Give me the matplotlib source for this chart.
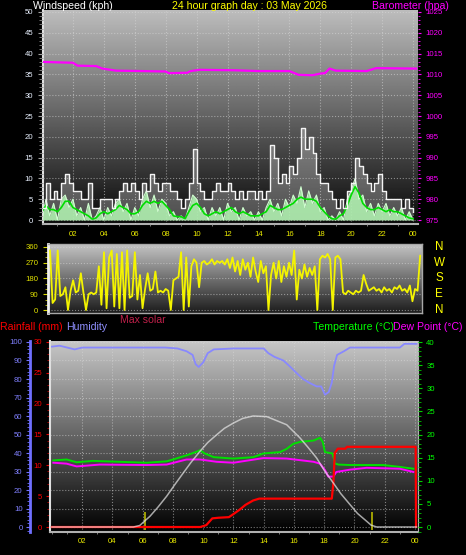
"""24 hour weather station graph: wind, direction, temperature/rain panel."""

import matplotlib

matplotlib.use("Agg")
import matplotlib.pyplot as plt
import matplotlib.transforms as mtransforms
from matplotlib.ticker import MultipleLocator
import numpy as np

W, H = 466, 555
plt.rcParams["font.family"] = ["Liberation Sans", "DejaVu Sans"]

# ---------------- data ----------------
WIND_STEP_H = 0.25  # 15 minute samples, 00:00 .. 24:00
gust_kph = [3, 9, 5, 7, 5, 9, 11, 9, 7, 7, 5, 5, 9, 3, 3, 5,
            5, 5, 3, 5, 7, 9, 7, 9, 7, 5, 9, 7, 11, 9, 7, 9,
            9, 7, 7, 5, 3, 5, 9, 17, 9, 7, 5, 5, 7, 9, 7, 7,
            9, 7, 5, 7, 5, 7, 7, 5, 7, 5, 7, 18, 15, 9, 11, 9,
            13, 11, 15, 22, 17, 20, 16, 11, 9, 9, 7, 5, 3, 5, 3, 7,
            9, 15, 13, 11, 9, 7, 9, 11, 7, 5, 5, 5, 5, 3, 5, 3, 2]
speed_kph = [0, 5, 1, 4, 0, 5, 6, 3, 5, 1, 3, 0, 4, 0, 1, 3,
             0, 3, 1, 4, 5, 2, 4, 0, 3, 1, 5, 7, 3, 6, 2, 5,
             4, 1, 2, 0, 1, 0, 3, 6, 5, 2, 3, 0, 3, 1, 3, 0,
             4, 2, 3, 0, 3, 1, 2, 0, 2, 0, 3, 5, 2, 4, 1, 5,
             3, 6, 4, 8, 3, 7, 4, 6, 2, 3, 0, 1, 0, 2, 0, 5,
             7, 10, 5, 6, 2, 4, 1, 4, 2, 4, 1, 3, 1, 3, 0, 2, 0]
avg_kph = [2.0, 3.5, 2.5, 2.5, 2.0, 3.0, 4.5, 4.5, 3.0, 2.5, 2.0, 1.5, 1.0, 0.2, 0.5, 1.5,
           2.0, 1.5, 2.0, 2.5, 3.5, 3.0, 2.5, 1.5, 1.5, 2.0, 3.5, 4.5, 4.0, 4.5, 4.0, 4.5,
           3.5, 2.5, 1.0, 0.8, 0.8, 0.3, 2.0, 3.5, 4.0, 3.0, 1.5, 1.0, 1.5, 2.0, 1.5, 2.0,
           2.5, 3.0, 2.0, 1.5, 2.0, 1.5, 1.0, 1.0, 1.0, 1.5, 2.0, 3.5, 3.0, 2.5, 2.5, 3.0,
           3.5, 4.0, 5.0, 5.5, 5.0, 5.0, 5.0, 4.5, 3.0, 2.0, 1.0, 0.3, 0.2, 1.0, 1.5, 3.5,
           6.0, 8.0, 6.5, 4.0, 3.0, 2.5, 2.5, 3.0, 2.5, 2.0, 2.5, 2.0, 2.0, 1.5, 1.0, 0.5, 0.3]

baro_hours = [0.1, 1.0, 2.0, 2.3, 3.5, 3.9, 4.8, 6.5, 8.0, 8.2, 9.4, 9.6, 10.2,
              12.4, 14.0, 16.0, 16.6, 17.5, 18.0, 18.3, 18.6, 19.0, 21.0, 21.6, 24.2]
baro_hpa = [1013.0, 1012.9, 1012.8, 1012.1, 1012.0, 1011.4, 1010.9, 1010.8, 1010.7, 1010.3, 1010.4,
            1010.8, 1011.1, 1011.0, 1010.8, 1010.8, 1009.9, 1009.8, 1010.2, 1010.3, 1011.4, 1010.9,
            1010.8, 1011.5, 1011.4]

DIR_STEP_H = 1 / 6  # 10 minute samples
wind_dir = [340, 40, 60, 340, 80, 90,
            130, 0, 110, 170, 100, 110,
            210, 100, 0, 90, 100, 90,
            100, 250, 30, 330, 10, 300,
            340, 20, 320, 10, 330, 0,
            340, 70, 80, 330, 60, 200,
            10, 120, 210, 110, 120, 220,
            100, 110, 100, 120, 110, 0,
            170, 180, 190, 330, 0, 300,
            20, 250, 290, 270, 130, 270,
            280, 260, 270, 290, 260, 280,
            270, 280, 260, 290, 240, 300,
            220, 280, 200, 290, 230, 270,
            190, 300, 220, 160, 280, 210,
            250, 0, 200, 270, 180, 280,
            160, 250, 190, 270, 200, 340,
            60, 230, 180, 260, 190, 240,
            200, 250, 0, 290, 310, 300,
            320, 290, 0, 300, 310, 290,
            100, 90, 110, 100, 90, 110,
            100, 110, 200, 150, 110, 120,
            130, 110, 120, 100, 130, 110,
            120, 100, 130, 120, 140, 110,
            120, 100, 140, 50, 120, 110,
            310]

hum_hours = [0.0, 0.5, 1.0, 1.5, 2.0, 4.0, 6.0, 7.5, 8.3, 8.9, 9.3, 9.5, 9.7, 10.0, 10.3,
             10.7, 12.0, 14.0, 14.3, 14.7, 15.3, 15.7, 16.2, 16.6, 17.0, 17.5, 17.8, 18.05,
             18.3, 18.5, 18.65, 18.85, 19.3, 19.7, 23.0, 23.3, 24.1]
hum_pct = [97.5, 98, 97, 96, 97, 97, 97, 97, 96.5, 95, 93, 88, 86.5, 89, 94,
           96, 96.5, 96.5, 94, 92, 90, 87, 83, 80, 78, 76, 76, 71.5,
           73, 78, 87, 93, 95, 97, 97, 99, 99]

temp_hours = [0.09, 0.97, 1.63, 2.7, 6.26, 7.58, 8.0, 8.9, 9.5, 9.79, 10.1, 10.7, 12.0, 13.3,
              13.98, 15.08, 15.52, 15.96, 16.4, 17.3, 17.72, 17.9, 18.05, 18.55, 18.72, 18.95,
              19.7, 21.9, 23.0, 23.9]
temp_c = [14.4, 14.6, 14.0, 14.3, 13.9, 14.2, 14.6, 15.5, 16.2, 16.6, 15.9, 15.1, 14.8, 15.1,
          15.9, 16.2, 16.9, 18.0, 18.4, 18.7, 19.3, 18.4, 16.2, 15.9, 13.7, 13.5,
          13.4, 13.4, 13.0, 12.6]

dew_hours = [0.09, 0.97, 1.63, 3.17, 6.26, 7.58, 8.9, 9.79, 10.89, 12.0, 13.98, 15.52,
             17.3, 17.72, 18.05, 18.27, 18.6, 18.8, 19.7, 20.8, 23.0, 23.9]
dew_c = [13.9, 13.7, 13.1, 13.5, 13.4, 13.5, 14.6, 14.6, 14.1, 13.9, 14.9, 14.8,
         14.1, 13.7, 12.3, 10.9, 10.9, 11.9, 12.4, 12.8, 12.6, 11.9]

rain_hours = [0.0, 9.8, 10.2, 10.6, 11.0, 11.7, 12.0, 12.4, 12.8, 13.3, 13.7, 18.5,
              18.6, 18.7, 18.9, 19.4, 19.5, 24.05, 24.07]
rain_mm = [0, 0, 0.3, 1.4, 1.5, 1.6, 2.1, 2.8, 3.6, 4.3, 4.6, 4.6,
           7.0, 12.0, 12.7, 12.7, 13.0, 13.0, 0]

solar_hours = [0.0, 5.38, 5.8, 6.48, 7.0, 7.58, 8.1, 8.68, 9.2, 9.79, 10.3, 10.89, 11.4, 12.0,
               12.6, 13.3, 14.2, 15.52, 16.4, 16.9, 17.5, 18.0, 18.6, 19.1, 19.71, 20.2,
               20.81, 21.1, 21.47, 24.1]
solar_wm2 = [0, 0, 12, 87, 160, 249, 340, 438, 525, 614, 685, 748, 800, 843,
             880, 900, 895, 829, 722, 650, 559, 460, 357, 270, 181, 110,
             46, 15, 0, 0]

sun_times = [6.15, 21.15]  # sunrise / sunset markers

hour_ticks = list(range(2, 25, 2))
hour_labels = ["02", "04", "06", "08", "10", "12", "14", "16", "18", "20", "22", "00"]

# ---------------- helpers ----------------
fig = plt.figure(figsize=(W / 100, H / 100), dpi=100, facecolor="black")

GRID = dict(color="#d8d8d8", linestyle=":", linewidth=0.8, alpha=0.55)
TICK_FS = 5.6
LABEL_FS = 7.6


def px_axes(left, top, right, bottom):
    return fig.add_axes([left / W, 1 - bottom / H, (right - left) / W, (bottom - top) / H])


def panel_bg(ax, top_val, bottom_val):
    grad = np.linspace(top_val, bottom_val, 256).reshape(-1, 1)
    ax.imshow(grad, cmap="gray", vmin=0, vmax=1, extent=[0, 1, 0, 1],
              transform=ax.transAxes, aspect="auto", zorder=0, interpolation="bilinear")


def ftext(x, y, s, **kw):
    kw.setdefault("va", "center")
    kw.setdefault("fontsize", LABEL_FS)
    fig.text(x / W, 1 - y / H, s, **kw)


def hide_spines(ax, keep=()):
    for name, sp in ax.spines.items():
        sp.set_visible(name in keep)


def hour_axis(ax, pad):
    ax.set_xticks(hour_ticks)
    ax.set_xticklabels(hour_labels)
    ax.xaxis.set_minor_locator(MultipleLocator(1))
    ax.tick_params(axis="x", which="major", length=0, pad=pad, labelsize=TICK_FS, labelcolor="#e8e800")
    ax.tick_params(axis="x", which="minor", length=1.5, color="#909090")


# ---------------- wind speed / barometer ----------------
wind_hours = np.arange(len(gust_kph)) * WIND_STEP_H

ax_w = px_axes(43, 10, 418, 224)
panel_bg(ax_w, 0.74, 0.03)
ax_w.fill_between(wind_hours, 0, gust_kph, step="post", color="white", alpha=0.28, lw=0, zorder=2)
ax_w.fill_between(wind_hours, 0, speed_kph, color="#b0f0b0", alpha=0.9, lw=0, zorder=3)
ax_w.plot(wind_hours, speed_kph, color="#d0ffd0", lw=0.8, zorder=3)
ax_w.plot(wind_hours, avg_kph, color="#00dd00", lw=1.2, zorder=4)
ax_w.plot(wind_hours, gust_kph, color="#f4f4f4", lw=1.0, drawstyle="steps-post", zorder=5)
ax_w.set_xlim(0.065, 24.32)
ax_w.set_ylim(-0.96, 50.48)
ax_w.grid(True, which="major", **GRID)
ax_w.set_axisbelow(False)
hide_spines(ax_w, keep=("left", "bottom"))
ax_w.spines["left"].set_color("#e0e0e0")
ax_w.spines["left"].set_linewidth(1.5)
ax_w.spines["bottom"].set_color("#b0b0b0")
ax_w.spines["bottom"].set_linewidth(1.5)
ax_w.yaxis.set_major_locator(MultipleLocator(5))
ax_w.yaxis.set_minor_locator(MultipleLocator(1))
ax_w.tick_params(axis="y", which="major", length=3.6, color="#a0a0a0", pad=3.4,
                 labelsize=TICK_FS, labelcolor="#e8f0ff")
ax_w.tick_params(axis="y", which="minor", length=2.6, color="#909090")
hour_axis(ax_w, pad=5.2)

ax_b = ax_w.twinx()
ax_b.plot(baro_hours, baro_hpa, color="#ff00ff", lw=1.6)
ax_b.set_ylim(974.04, 1025.48)
hide_spines(ax_b)
ax_b.yaxis.set_major_locator(MultipleLocator(5))
ax_b.yaxis.set_minor_locator(MultipleLocator(1))
ax_b.tick_params(axis="y", which="major", length=2.2, color="#ff00ff", pad=3.2,
                 labelsize=TICK_FS, labelcolor="#ff00ff")
ax_b.tick_params(axis="y", which="minor", length=1.6, color="#ff00ff")

ftext(33, 6, "Windspeed (kph)", color="white")
ftext(250, 6, "24 hour graph day : 03 May 2026", color="#ffff00", ha="center")
ftext(372, 6, "Barometer (hpa)", color="#ff00ff")

# ---------------- wind direction ----------------
dir_hours = np.arange(len(wind_dir)) * DIR_STEP_H

ax_d = px_axes(48, 244, 422, 313)
panel_bg(ax_d, 0.77, 0.11)
ax_d.plot(dir_hours, wind_dir, color="#f4f400", lw=1.3, zorder=3)
ax_d.set_xlim(-0.13, 24.12)
ax_d.set_ylim(-17.1, 377)
ax_d.set_yticks([0, 90, 180, 270, 360])
ax_d.yaxis.set_minor_locator(MultipleLocator(30))
ax_d.grid(True, axis="y", **GRID)
ax_d.set_xticks([])
for name, sp in ax_d.spines.items():
    sp.set_color("#a8a8a8")
    sp.set_linewidth(1.0)
ax_d.spines["left"].set_color("#f0f0f0")
ax_d.spines["left"].set_linewidth(2.0)
ax_d.tick_params(axis="y", which="major", length=3.6, color="#d8d800", pad=3.4,
                 labelsize=TICK_FS, labelcolor="#e0e000")
ax_d.tick_params(axis="y", which="minor", length=2.4, color="#c8c800")

compass = mtransforms.blended_transform_factory(fig.transFigure, ax_d.transData)
for deg, letter in zip([360, 270, 180, 90, 0], ["N", "W", "S", "E", "N"]):
    ax_d.text(439 / W, deg, letter, transform=compass, color="#ffff00",
              fontsize=8.4, ha="center", va="center", clip_on=False)

ftext(0, 327, "Rainfall (mm)", color="#ff0000")
ftext(66, 327, "Humidity", color="#9090ff")
ftext(120, 320, "Max solar", color="#c0204a")
ftext(313, 327, "Temperature (\u00b0C)", color="#00ff00")
ftext(393, 327, "Dew Point (\u00b0C)", color="#ff00ff")

# ---------------- temperature / humidity / rain ----------------
ax = px_axes(50, 341, 418, 532)
panel_bg(ax, 0.78, 0.0)
ax.set_xlim(-0.13, 24.2)
ax.set_ylim(-0.81, 30.16)
ax.grid(True, axis="x", **GRID)
hide_spines(ax, keep=("left", "bottom", "right"))
ax.spines["left"].set_color("#e0e0e0")
ax.spines["left"].set_linewidth(1.5)
ax.spines["bottom"].set_color("#b0b0b0")
ax.spines["bottom"].set_linewidth(1.5)
ax.spines["right"].set_color("#b0b0b0")
ax.yaxis.set_major_locator(MultipleLocator(5))
ax.yaxis.set_minor_locator(MultipleLocator(1))
ax.tick_params(axis="y", which="major", length=3.2, color="#e00000", pad=2.6,
               labelsize=TICK_FS, labelcolor="#ff0000")
ax.tick_params(axis="y", which="minor", length=2.2, color="#c00000")
hour_axis(ax, pad=4.4)

ax_h = ax.twinx()
ax_h.set_ylim(-2.7, 100.54)
hide_spines(ax_h, keep=("left",))
ax_h.spines["left"].set_position(("axes", -0.0543))
ax_h.spines["left"].set_color("#7070ff")
ax_h.spines["left"].set_linewidth(2.0)
ax_h.spines["left"].set_bounds(-2.7, 100.54)
ax_h.yaxis.tick_left()
ax_h.yaxis.set_major_locator(MultipleLocator(10))
ax_h.yaxis.set_minor_locator(MultipleLocator(2))
ax_h.tick_params(axis="y", which="major", length=3.2, color="#7070ff", pad=2.2,
                 labelsize=TICK_FS, labelcolor="#8080ff")
ax_h.tick_params(axis="y", which="minor", length=2.2, color="#7070ff")
ax_h.grid(True, axis="y", **GRID)
ax_h.plot(hum_hours, hum_pct, color="#8888ff", lw=1.3)

ax_t = ax.twinx()
ax_t.set_ylim(-1.08, 40.22)
hide_spines(ax_t)
ax_t.yaxis.set_major_locator(MultipleLocator(5))
ax_t.yaxis.set_minor_locator(MultipleLocator(1))
ax_t.tick_params(axis="y", which="major", length=2.6, color="#00d000", pad=3.4,
                 labelsize=TICK_FS, labelcolor="#00ff00")
ax_t.tick_params(axis="y", which="minor", length=1.8, color="#00c000")
ax_t.plot(temp_hours, temp_c, color="#00e000", lw=1.4)
ax_t.plot(dew_hours, dew_c, color="#ff00ff", lw=1.4)
ax_t.vlines(sun_times, -0.6, 3.3, color="#b8b800", lw=1.2)

ax_r = ax.twinx()
ax_r.set_ylim(-0.81, 30.16)
ax_r.set_yticks([])
hide_spines(ax_r)
ax_r.plot(rain_hours, rain_mm, color="#ff0000", lw=1.6)

ax_s = ax.twinx()
ax_s.set_ylim(-40.5, 1508)
ax_s.set_yticks([])
hide_spines(ax_s)
ax_s.plot(solar_hours, solar_wm2, color="#e8e8e8", lw=1.1, alpha=0.7)

fig.savefig("out.png", dpi=100, facecolor="black")
